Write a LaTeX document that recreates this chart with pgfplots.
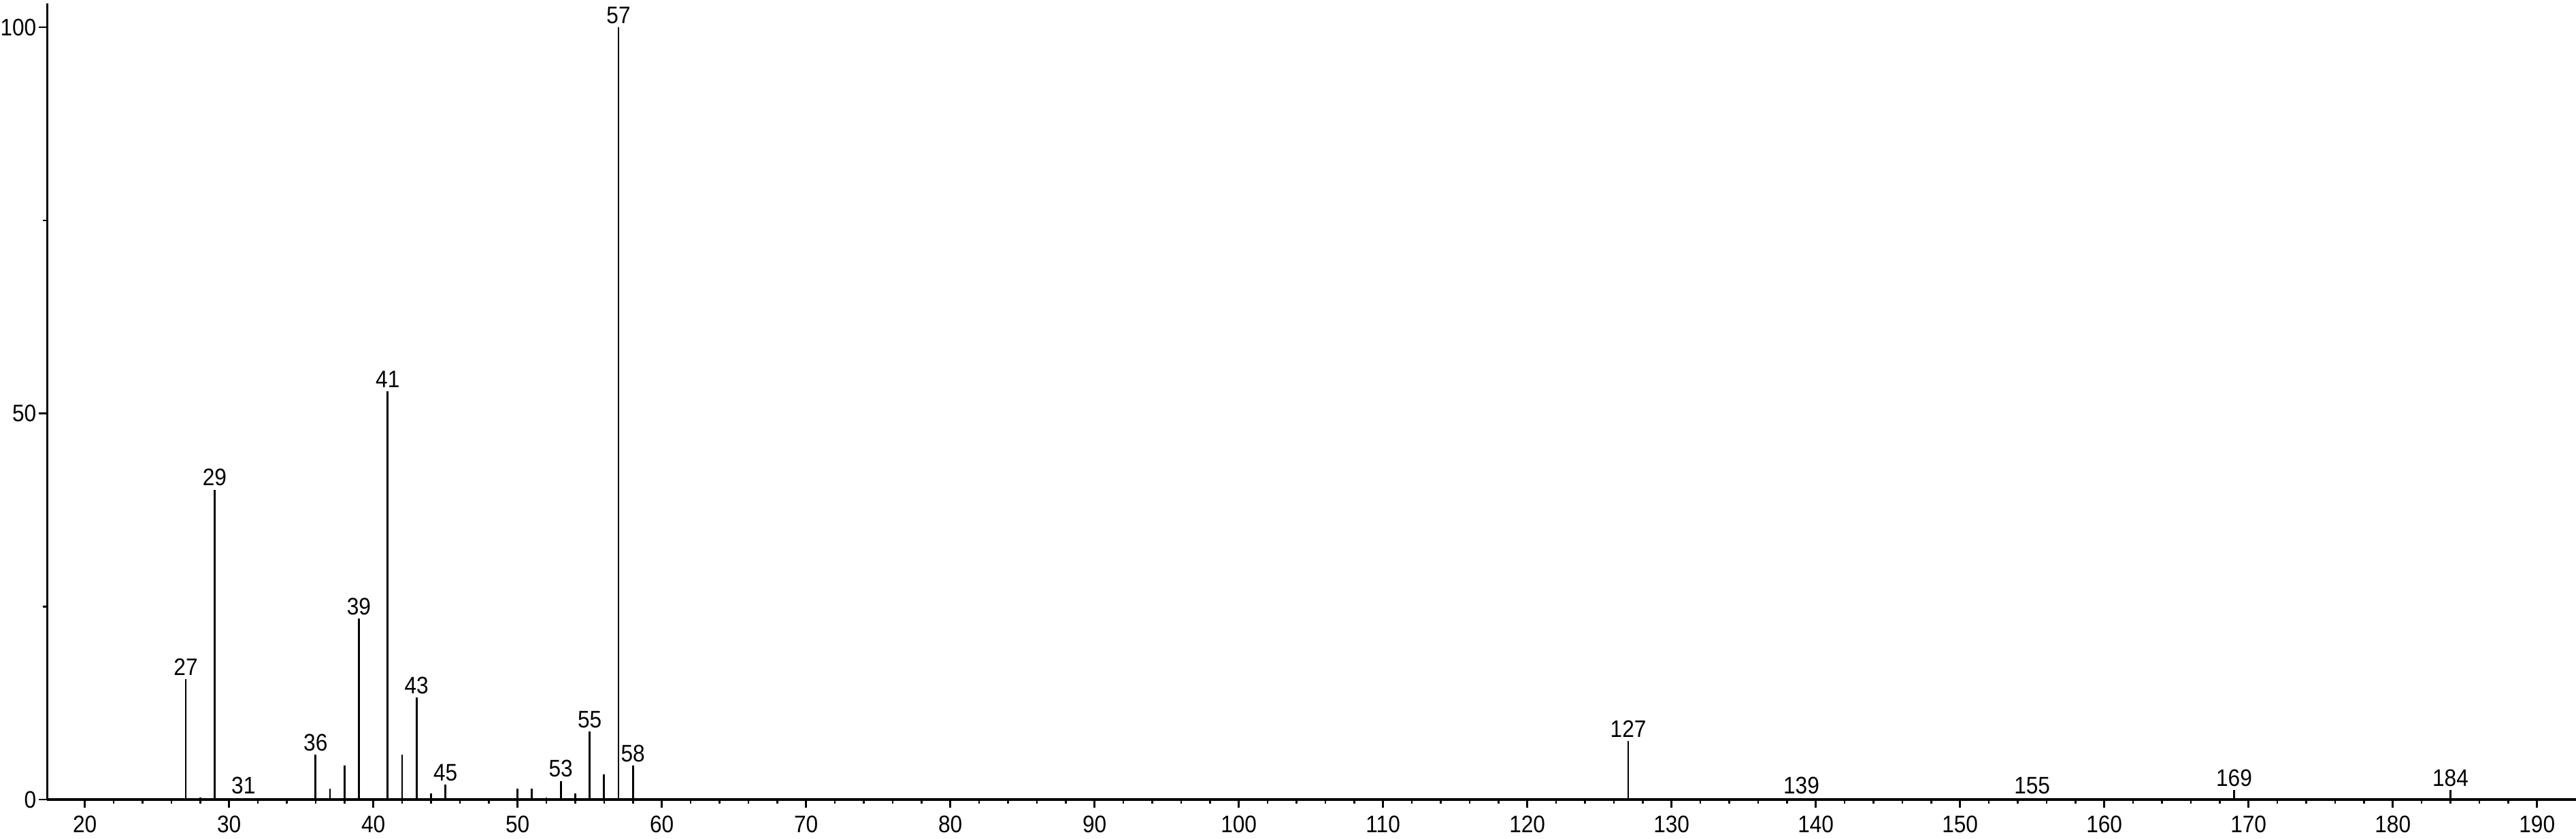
\documentclass[border=0pt]{standalone}
\usepackage{pgfplots}
\pgfplotsset{compat=1.18}
\usepackage{fontspec}
\setmainfont{Liberation Sans}[FakeStretch=0.9]
\pgfplotstableread{
mz int
28 0.3
37 1.4
38 4.4
42 5.8
44 0.8
50 1.4
51 1.4
52 0.3
54 0.8
56 3.3
}\unlabeled
\pgfplotstableread{
mz int
27 15.6
29 40.1
31 0.2
36 5.8
39 23.4
41 52.9
43 13.2
45 1.9
53 2.4
55 8.8
57 100
58 4.4
127 7.6
139 0.2
155 0.2
169 1.2
184 1.2
}\labeled
\begin{document}
\begin{tikzpicture}
\begin{axis}[
  scale only axis,
  width=37.165cm, height=11.70cm,
  xmin=17.4, xmax=192.7,
  ymin=0, ymax=103.1,
  axis x line*=bottom, axis y line*=left,
  axis line style={line width=0.95pt},
  xtick={20,30,...,190},
  minor x tick num=4,
  ytick={0,50,100},
  minor ytick={25,75},
  tick align=outside,
  major tick length=0.12cm,
  minor tick length=0.06cm,
  tick style={line width=0.75pt, black},
  /pgf/number format/assume math mode=true,
  ticklabel style={font=\fontsize{10}{12}\selectfont},
  yticklabel style={inner sep=1pt},
  xticklabel style={inner sep=2pt, yshift=-0.04cm},
  clip=false,
]
\coordinate (sw) at (rel axis cs:0,0);
\addplot[ycomb, line width=0.8pt, black, mark=none] table[x=mz,y=int] {\unlabeled};
\addplot[ycomb, line width=0.8pt, black, mark=none,
  point meta=x,
  nodes near coords={\pgfmathprintnumber[int detect]{\pgfplotspointmeta}},
  nodes near coords style={font=\fontsize{10}{12}\selectfont, anchor=south, inner sep=1.2pt}
] table[x=mz,y=int] {\labeled};
\end{axis}
\pgfresetboundingbox
\path ([shift={(-0.695cm,-0.57cm)}]sw) rectangle ([shift={(37.165cm,11.75cm)}]sw);
\end{tikzpicture}
\end{document}
